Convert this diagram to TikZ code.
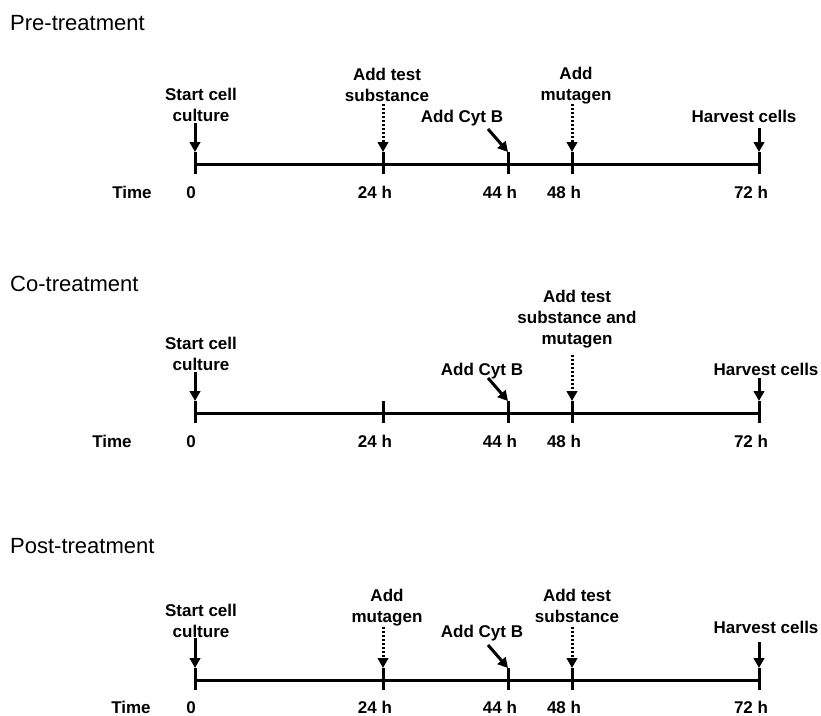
\documentclass[tikz,border=0pt]{standalone}
\usepackage{fontspec}
\setmainfont{Liberation Sans}
\usetikzlibrary{arrows.meta}

\begin{document}
\begin{tikzpicture}[x=1pt, y=-1pt,
  stage/.style={anchor=base west, inner sep=0pt, font=\fontsize{22}{26}\selectfont},
  lbl/.style={anchor=base, inner sep=0pt, align=center,
              font=\fontsize{17}{21}\selectfont\bfseries},
  tlbl/.style={anchor=base, inner sep=0pt, font=\fontsize{17}{21}\selectfont\bfseries},
  tline/.style={line width=3pt},
  tick/.style={line width=3pt},
  arr/.style={-{Triangle[length=10pt,width=10.5pt]}, line width=3pt},
  dotarr/.style={-{Triangle[length=10pt,width=10.5pt]}, line width=3pt,
                 dash pattern=on 2.2pt off 1.8pt}
]
  \useasboundingbox (0,0) rectangle (821,715);

  % Pre-treatment
  \node[stage] (pre) at (10,30) {Pre-treatment};
  \coordinate (pre-0)  at (195,164);
  \coordinate (pre-24) at (383,164);
  \coordinate (pre-44) at (508,164);
  \coordinate (pre-48) at (572,164);
  \coordinate (pre-72) at (759,164);
  \draw[tline] (pre-0) -- (pre-72);
  \foreach \t in {0,24,44,48,72}
    \draw[tick] ([yshift=12pt]pre-\t) -- ([yshift=-10pt]pre-\t);

  \node[lbl] (pre-start) at (201,121) {Start cell\\culture};
  \node[lbl] (pre-test)  at (387,101) {Add test\\substance};
  \node[lbl] (pre-cyt)   at (462,122) {Add Cyt B};
  \node[lbl] (pre-mut)   at (576,100) {Add\\mutagen};
  \node[lbl] (pre-harv)  at (744,122) {Harvest cells};

  \draw[arr]    ([yshift=41pt]pre-0)  -- ([yshift=12pt]pre-0);
  \draw[dotarr] ([yshift=60pt]pre-24) -- ([yshift=12pt]pre-24);
  \draw[arr]    ([shift={(-20pt,35pt)}]pre-44) -- ([yshift=12pt]pre-44);
  \draw[dotarr] ([yshift=60pt]pre-48) -- ([yshift=12pt]pre-48);
  \draw[arr]    ([yshift=36pt]pre-72) -- ([yshift=12pt]pre-72);

  \node[tlbl] (pre-time) at (132,198) {Time};
  \node[tlbl] (pre-l0)  at ([shift={(-4pt,-34pt)}]pre-0)  {0};
  \node[tlbl] (pre-l24) at ([shift={(-8pt,-34pt)}]pre-24) {24 h};
  \node[tlbl] (pre-l44) at ([shift={(-8pt,-34pt)}]pre-44) {44 h};
  \node[tlbl] (pre-l48) at ([shift={(-8pt,-34pt)}]pre-48) {48 h};
  \node[tlbl] (pre-l72) at ([shift={(-8pt,-34pt)}]pre-72) {72 h};

  % Co-treatment
  \node[stage] (co) at (10,291) {Co-treatment};
  \coordinate (co-0)  at (195,413);
  \coordinate (co-24) at (383,413);
  \coordinate (co-44) at (508,413);
  \coordinate (co-48) at (572,413);
  \coordinate (co-72) at (759,413);
  \draw[tline] (co-0) -- (co-72);
  \foreach \t in {0,24,44,48,72}
    \draw[tick] ([yshift=12pt]co-\t) -- ([yshift=-10pt]co-\t);

  \node[lbl] (co-start) at (201,370) {Start cell\\culture};
  \node[lbl] (co-cyt)   at (482,375) {Add Cyt B};
  \node[lbl] (co-both)  at (577,344) {Add test\\substance and\\mutagen};
  \node[lbl] (co-harv)  at (766,375) {Harvest cells};

  \draw[arr]    ([yshift=41pt]co-0)  -- ([yshift=12pt]co-0);
  \draw[arr]    ([shift={(-20pt,35pt)}]co-44) -- ([yshift=12pt]co-44);
  \draw[dotarr] ([yshift=58pt]co-48) -- ([yshift=12pt]co-48);
  \draw[arr]    ([yshift=35pt]co-72) -- ([yshift=12pt]co-72);

  \node[tlbl] (co-time) at (112,447) {Time};
  \node[tlbl] (co-l0)  at ([shift={(-4pt,-34pt)}]co-0)  {0};
  \node[tlbl] (co-l24) at ([shift={(-8pt,-34pt)}]co-24) {24 h};
  \node[tlbl] (co-l44) at ([shift={(-8pt,-34pt)}]co-44) {44 h};
  \node[tlbl] (co-l48) at ([shift={(-8pt,-34pt)}]co-48) {48 h};
  \node[tlbl] (co-l72) at ([shift={(-8pt,-34pt)}]co-72) {72 h};

  % Post-treatment
  \node[stage] (post) at (10,553) {Post-treatment};
  \coordinate (post-0)  at (195,680);
  \coordinate (post-24) at (383,680);
  \coordinate (post-44) at (508,680);
  \coordinate (post-48) at (572,680);
  \coordinate (post-72) at (759,680);
  \draw[tline] (post-0) -- (post-72);
  \foreach \t in {0,24,44,48,72}
    \draw[tick] ([yshift=12pt]post-\t) -- ([yshift=-10pt]post-\t);

  \node[lbl] (post-start) at (201,637) {Start cell\\culture};
  \node[lbl] (post-mut)   at (387,622) {Add\\mutagen};
  \node[lbl] (post-cyt)   at (482,637) {Add Cyt B};
  \node[lbl] (post-test)  at (577,622) {Add test\\substance};
  \node[lbl] (post-harv)  at (766,633) {Harvest cells};

  \draw[arr]    ([yshift=42pt]post-0)  -- ([yshift=12pt]post-0);
  \draw[dotarr] ([yshift=53pt]post-24) -- ([yshift=12pt]post-24);
  \draw[arr]    ([shift={(-20pt,35pt)}]post-44) -- ([yshift=12pt]post-44);
  \draw[dotarr] ([yshift=53pt]post-48) -- ([yshift=12pt]post-48);
  \draw[arr]    ([yshift=38pt]post-72) -- ([yshift=12pt]post-72);

  \node[tlbl] (post-time) at (131,713) {Time};
  \node[tlbl] (post-l0)  at ([shift={(-4pt,-33pt)}]post-0)  {0};
  \node[tlbl] (post-l24) at ([shift={(-8pt,-33pt)}]post-24) {24 h};
  \node[tlbl] (post-l44) at ([shift={(-8pt,-33pt)}]post-44) {44 h};
  \node[tlbl] (post-l48) at ([shift={(-8pt,-33pt)}]post-48) {48 h};
  \node[tlbl] (post-l72) at ([shift={(-8pt,-33pt)}]post-72) {72 h};
\end{tikzpicture}
\end{document}
